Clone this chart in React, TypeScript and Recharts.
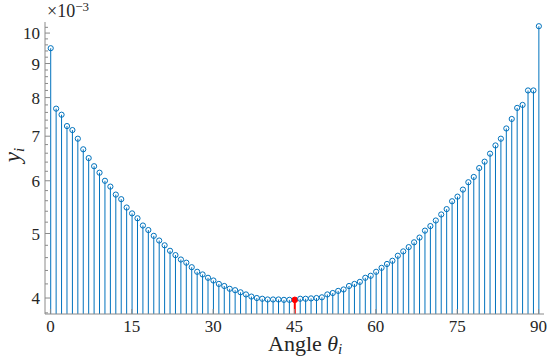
import React from 'react';
import { ComposedChart, Bar, XAxis, YAxis } from 'recharts';

// Angles θ_i in degrees
const angles = [
  0, 1, 2, 3, 4, 5, 6, 7, 8, 9, 10, 11, 12, 13, 14, 15, 16, 17, 18, 19,
  20, 21, 22, 23, 24, 25, 26, 27, 28, 29, 30, 31, 32, 33, 34, 35, 36, 37, 38, 39,
  40, 41, 42, 43, 44, 45, 46, 47, 48, 49, 50, 51, 52, 53, 54, 55, 56, 57, 58, 59,
  60, 61, 62, 63, 64, 65, 66, 67, 68, 69, 70, 71, 72, 73, 74, 75, 76, 77, 78, 79,
  80, 81, 82, 83, 84, 85, 86, 87, 88, 89, 90,
];

// y_i values in units of 1e-3
const yValues = [
  9.49, 7.70, 7.54, 7.25, 7.15, 6.94, 6.69, 6.49, 6.31, 6.17,
  6.00, 5.88, 5.72, 5.63, 5.47, 5.36, 5.27, 5.14, 5.06, 4.96,
  4.88, 4.80, 4.71, 4.64, 4.57, 4.52, 4.45, 4.38, 4.34, 4.29,
  4.25, 4.20, 4.17, 4.13, 4.11, 4.08, 4.05, 4.02, 4.00, 3.99,
  3.98, 3.98, 3.98, 3.975, 3.975, 3.975, 3.99, 3.99, 3.995, 4.00,
  4.01, 4.05, 4.07, 4.10, 4.12, 4.17, 4.20, 4.23, 4.29, 4.32,
  4.38, 4.44, 4.50, 4.55, 4.63, 4.70, 4.77, 4.85, 4.93, 5.05,
  5.13, 5.23, 5.34, 5.44, 5.59, 5.68, 5.82, 5.97, 6.08, 6.27,
  6.41, 6.59, 6.78, 6.94, 7.19, 7.43, 7.72, 7.80, 8.20, 8.20,
  10.24,
];

const highlightAngle = 45;

const xTicks = [0, 15, 30, 45, 60, 75, 90];
const yMajorTicks = [4, 5, 6, 7, 8, 9, 10];
const yMinorTicks = [
  3.8, 4.2, 4.4, 4.6, 4.8, 5.2, 5.4, 5.6, 5.8, 6.2, 6.4, 6.6, 6.8,
  7.2, 7.4, 7.6, 7.8, 8.2, 8.4, 8.6, 8.8, 9.2, 9.4, 9.6, 9.8, 10.2,
];
const yAllTicks = [...yMinorTicks, ...yMajorTicks].sort((a, b) => a - b);

const xDomain = [-1, 91];
const yDomain = [3.785, 10.39];

const data = angles.map((a, i) => ({ angle: a, y: yValues[i] }));

const AXIS = '#8a8a8a';
const TEXT = '#262626';
const BLUE = '#0072BD';
const RED = '#FF0000';
const FONT = "'Liberation Serif', 'Times New Roman', serif";

const Stem = (props: any) => {
  const { x, y, width, height, payload } = props;
  if (x == null || y == null) return null;
  const cx = x + width / 2;
  const hl = payload && payload.angle === highlightAngle;
  const color = hl ? RED : BLUE;
  return (
    <g>
      <line x1={cx} y1={y + height} x2={cx} y2={y} stroke={color} strokeWidth={hl ? 2 : 1} />
      <circle cx={cx} cy={y} r={hl ? 2.8 : 2.6} fill={hl ? RED : 'none'} stroke={color} strokeWidth={1} />
    </g>
  );
};

const BottomTick = (props: any) => {
  const { x, y, payload } = props;
  return (
    <g>
      <line x1={x} y1={y} x2={x} y2={y - 5} stroke={AXIS} strokeWidth={1} />
      <text x={x} y={y + 18} textAnchor="middle" style={{ fontFamily: FONT, fontSize: 17 }} fill={TEXT}>
        {payload.value}
      </text>
    </g>
  );
};

const TopTick = (props: any) => {
  const { x, y } = props;
  return <line x1={x} y1={y} x2={x} y2={y + 5} stroke={AXIS} strokeWidth={1} />;
};

const LeftTick = (props: any) => {
  const { x, y, payload } = props;
  const major = yMajorTicks.includes(payload.value);
  return (
    <g>
      <line x1={x} y1={y} x2={x + (major ? 5 : 3)} y2={y} stroke={AXIS} strokeWidth={1} />
      {major && (
        <text x={x - 5} y={y} dy="0.36em" textAnchor="end" style={{ fontFamily: FONT, fontSize: 17 }} fill={TEXT}>
          {payload.value}
        </text>
      )}
    </g>
  );
};

const RightTick = (props: any) => {
  const { x, y, payload } = props;
  const major = yMajorTicks.includes(payload.value);
  return <line x1={x} y1={y} x2={x - (major ? 5 : 3)} y2={y} stroke={AXIS} strokeWidth={1} />;
};

export default function App() {
  return (
    <div style={{ position: 'absolute', left: 0, top: 0, width: 548, height: 357, background: '#fff' }}>
      <ComposedChart
        width={548}
        height={357}
        data={data}
        margin={{ top: 22, right: 4, bottom: 0, left: 0 }}
      >
        <XAxis
          xAxisId="b"
          dataKey="angle"
          type="number"
          domain={xDomain}
          ticks={xTicks}
          interval={0}
          allowDataOverflow
          height={43}
          tickSize={0}
          tickMargin={0}
          tickLine={false}
          axisLine={{ stroke: AXIS, strokeWidth: 1 }}
          tick={<BottomTick />}
        />
        <XAxis
          xAxisId="t"
          orientation="top"
          type="number"
          domain={xDomain}
          ticks={xTicks}
          interval={0}
          allowDataOverflow
          height={0}
          tickSize={0}
          tickMargin={0}
          tickLine={false}
          axisLine={{ stroke: AXIS, strokeWidth: 1 }}
          tick={<TopTick />}
        />
        <YAxis
          yAxisId="l"
          type="number"
          scale="log"
          domain={yDomain}
          ticks={yAllTicks}
          interval={0}
          allowDataOverflow
          width={45}
          tickSize={0}
          tickMargin={0}
          tickLine={false}
          axisLine={{ stroke: AXIS, strokeWidth: 1 }}
          tick={<LeftTick />}
        />
        <YAxis
          yAxisId="r"
          orientation="right"
          type="number"
          scale="log"
          domain={yDomain}
          ticks={yAllTicks}
          interval={0}
          allowDataOverflow
          width={0}
          tickSize={0}
          tickMargin={0}
          tickLine={false}
          axisLine={{ stroke: AXIS, strokeWidth: 1 }}
          tick={<RightTick />}
        />
        <Bar
          xAxisId="b"
          yAxisId="l"
          dataKey="y"
          barSize={2}
          isAnimationActive={false}
          shape={<Stem />}
        />
      </ComposedChart>
      <svg
        width={548}
        height={357}
        style={{ position: 'absolute', left: 0, top: 0, pointerEvents: 'none' }}
      >
        <text x={47} y={17} style={{ fontFamily: FONT, fontSize: 18 }} fill={TEXT}>
          ×10
          <tspan style={{ fontSize: 13 }} dy={-6}>−3</tspan>
        </text>
        <text
          x={20}
          y={155}
          transform="rotate(-90 20 155)"
          textAnchor="middle"
          style={{ fontFamily: FONT, fontSize: 23 }}
          fill={TEXT}
        >
          <tspan fontStyle="italic">y</tspan>
          <tspan fontStyle="italic" style={{ fontSize: 15 }} dy={4}>i</tspan>
        </text>
        <text x={268} y={351} style={{ fontFamily: FONT, fontSize: 22 }} fill={TEXT}>
          Angle{' '}
          <tspan fontStyle="italic">θ</tspan>
          <tspan fontStyle="italic" style={{ fontSize: 15 }} dy={3}>i</tspan>
        </text>
      </svg>
    </div>
  );
}
